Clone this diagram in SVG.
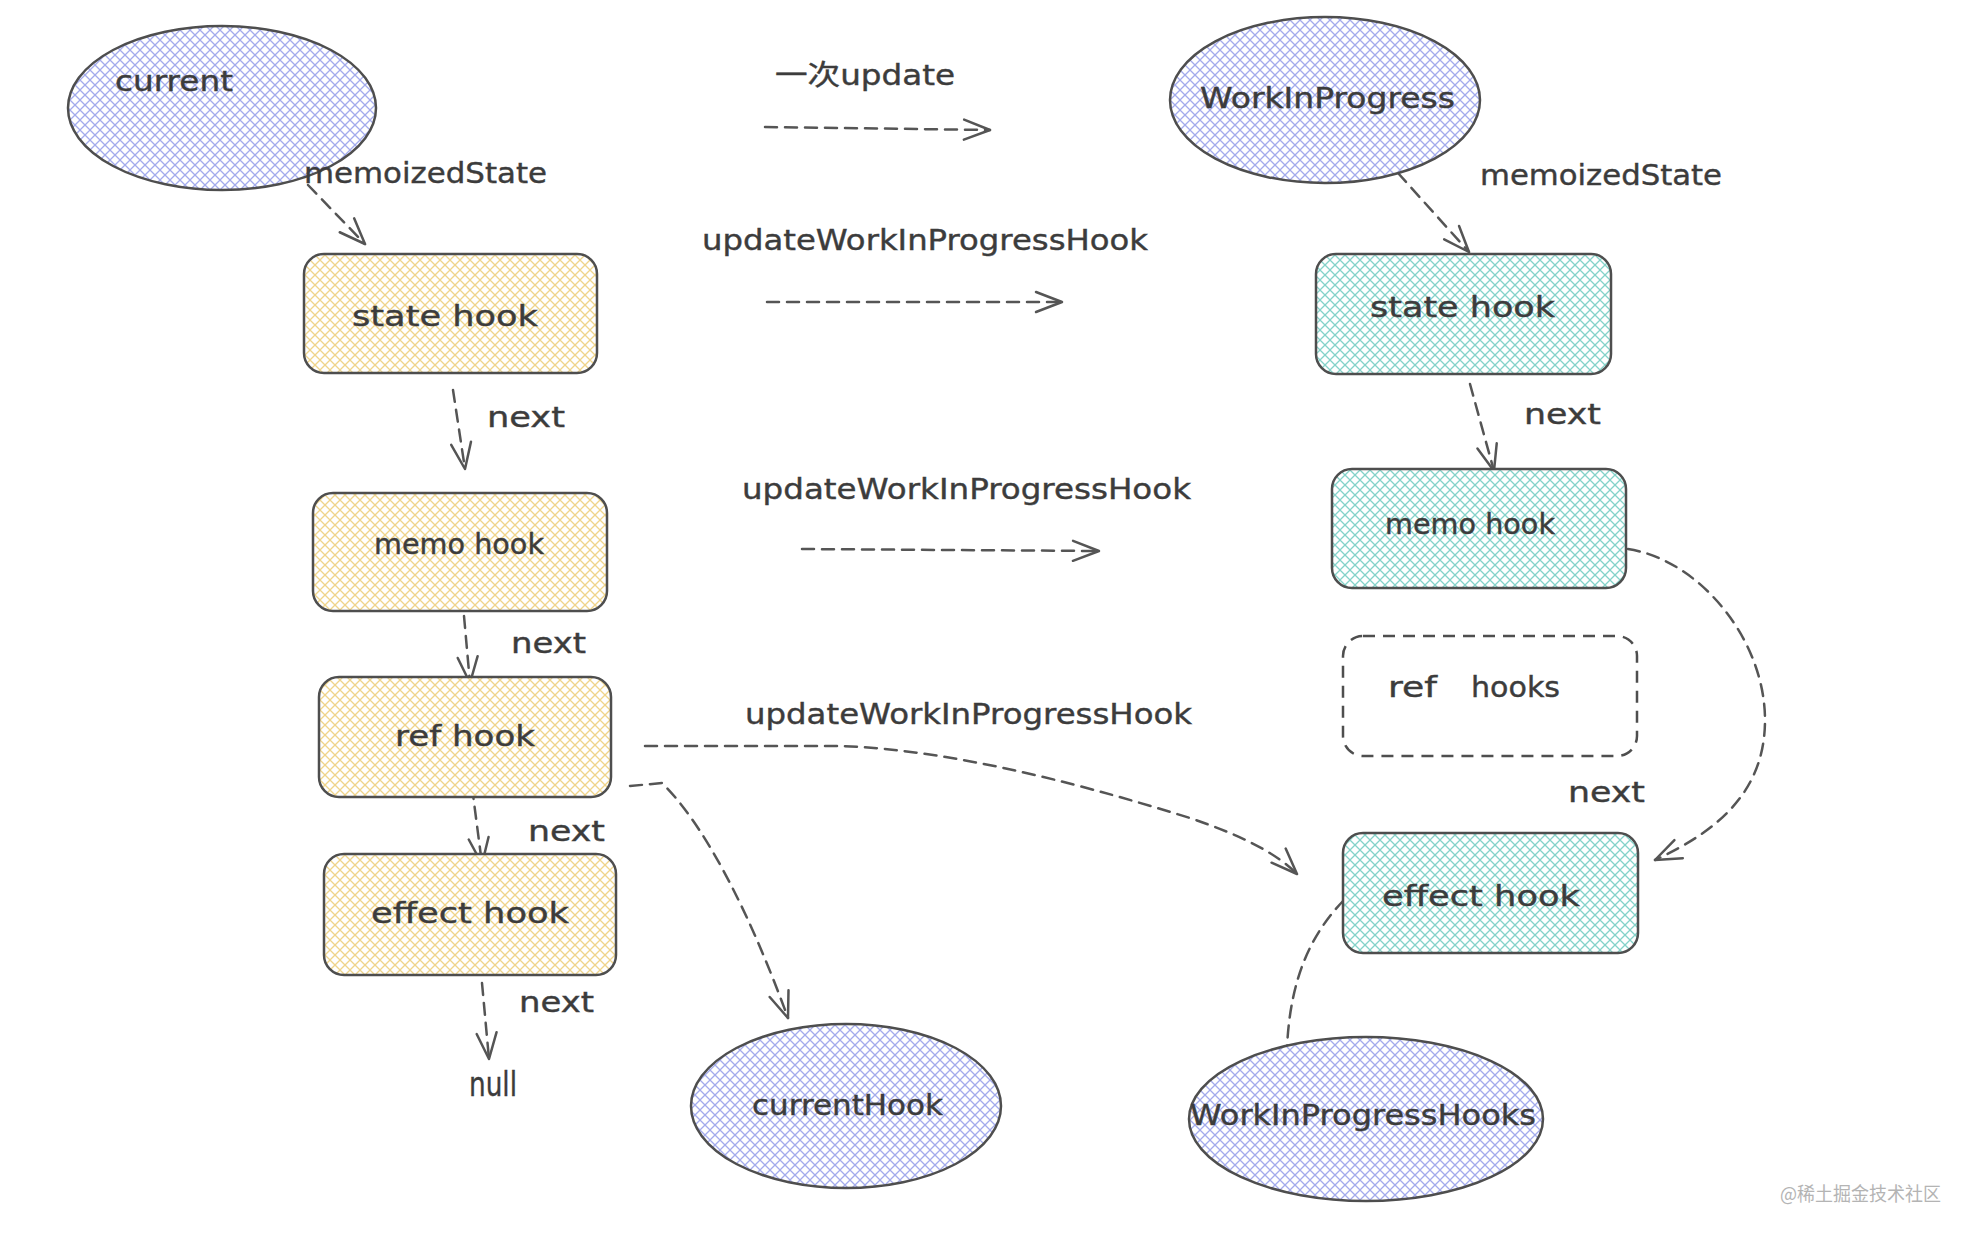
<svg xmlns="http://www.w3.org/2000/svg" width="1972" height="1236" viewBox="0 0 1972 1236">
<style>
  .lbl { font-family: "DejaVu Sans", "Noto Sans CJK SC", sans-serif; font-size: 28px; fill: #3c3c3c; stroke: #3c3c3c; stroke-width: 0.4; }
  .big { font-size: 34px; }
  .shape { stroke: #4e4e4e; stroke-width: 2.5; }
  .conn { fill: none; stroke: #555555; stroke-width: 2.5; stroke-dasharray: 12 8; stroke-linecap: round; }
  .wm { font-family: "Noto Sans CJK SC", "DejaVu Sans", sans-serif; font-size: 19px; fill: #b4b4b4; }
</style>
<defs>
  <pattern id="hBlue" patternUnits="userSpaceOnUse" width="10" height="10">
    <rect width="10" height="10" fill="#ffffff"/>
    <path d="M-1,-1 L11,11 M-1,11 L11,-1" stroke="#a3abec" stroke-width="1.3"/>
  </pattern>
  <pattern id="hYellow" patternUnits="userSpaceOnUse" width="10" height="10">
    <rect width="10" height="10" fill="#ffffff"/>
    <path d="M-1,-1 L11,11 M-1,11 L11,-1" stroke="#efd48a" stroke-width="1.3"/>
  </pattern>
  <pattern id="hTeal" patternUnits="userSpaceOnUse" width="10" height="10">
    <rect width="10" height="10" fill="#ffffff"/>
    <path d="M-1,-1 L11,11 M-1,11 L11,-1" stroke="#84d2c9" stroke-width="1.3"/>
  </pattern>
  <marker id="arr" viewBox="-30 -14 34 28" refX="0" refY="0" markerWidth="34" markerHeight="28" markerUnits="userSpaceOnUse" orient="auto">
    <path d="M-26,-10 L0,0 L-26,10" fill="none" stroke="#555555" stroke-width="2.5" stroke-linecap="round" stroke-linejoin="round"/>
  </marker>
</defs>
<rect width="1972" height="1236" fill="#ffffff"/>

<g id="connectors">
  <path class="conn" d="M308,185 L365,244" marker-end="url(#arr)"/>
  <path class="conn" d="M453,390 L465,469" marker-end="url(#arr)"/>
  <path class="conn" d="M464,616 L470,683" marker-end="url(#arr)"/>
  <path class="conn" d="M472,787 L482,864" marker-end="url(#arr)"/>
  <path class="conn" d="M482,983 L489,1059" marker-end="url(#arr)"/>
  <path class="conn" d="M1398,173 L1469,252" marker-end="url(#arr)"/>
  <path class="conn" d="M1470,384 L1494,471" marker-end="url(#arr)"/>
  <path class="conn" d="M765,127 L990,130" marker-end="url(#arr)"/>
  <path class="conn" d="M767,302 L1062,302" marker-end="url(#arr)"/>
  <path class="conn" d="M802,549 L1099,551" marker-end="url(#arr)"/>
  <path class="conn" d="M645,746 L840,746 C960,750 1100,790 1190,818 C1240,835 1275,852 1297,874" marker-end="url(#arr)"/>
  <path class="conn" d="M630,786 L662,783 C700,820 745,900 788,1018" marker-end="url(#arr)"/>
  <path class="conn" d="M1628,549 C1700,560 1765,640 1765,720 C1765,790 1720,830 1655,860" marker-end="url(#arr)"/>
  <path class="conn" d="M1344,900 C1310,935 1290,980 1287,1048"/>
</g>

<g id="node-current">
  <ellipse class="shape" cx="222" cy="108" rx="154" ry="82" fill="url(#hBlue)"/>
  <text class="lbl" x="115" y="91" textLength="118" lengthAdjust="spacingAndGlyphs">current</text>
</g>
<g id="node-wip">
  <ellipse class="shape" cx="1325" cy="100" rx="155" ry="83" fill="url(#hBlue)"/>
  <text class="lbl" x="1200" y="108" textLength="255" lengthAdjust="spacingAndGlyphs">WorkInProgress</text>
</g>
<g id="node-currentHook">
  <ellipse class="shape" cx="846" cy="1106" rx="155" ry="82" fill="url(#hBlue)"/>
  <text class="lbl" x="752" y="1115" textLength="191" lengthAdjust="spacingAndGlyphs">currentHook</text>
</g>
<g id="node-wipHooks">
  <ellipse class="shape" cx="1366" cy="1119" rx="177" ry="82" fill="url(#hBlue)"/>
  <text class="lbl" x="1190" y="1125" textLength="346" lengthAdjust="spacingAndGlyphs">WorkInProgressHooks</text>
</g>

<g id="node-state-left">
  <rect class="shape" x="304" y="254" width="293" height="119" rx="20" fill="url(#hYellow)"/>
  <text class="lbl" x="352" y="326" textLength="186" lengthAdjust="spacingAndGlyphs">state hook</text>
</g>
<g id="node-memo-left">
  <rect class="shape" x="313" y="493" width="294" height="118" rx="20" fill="url(#hYellow)"/>
  <text class="lbl" x="374" y="554" textLength="170" lengthAdjust="spacingAndGlyphs">memo hook</text>
</g>
<g id="node-ref-left">
  <rect class="shape" x="319" y="677" width="292" height="120" rx="20" fill="url(#hYellow)"/>
  <text class="lbl" x="395" y="746" textLength="140" lengthAdjust="spacingAndGlyphs">ref hook</text>
</g>
<g id="node-effect-left">
  <rect class="shape" x="324" y="854" width="292" height="121" rx="20" fill="url(#hYellow)"/>
  <text class="lbl" x="371" y="923" textLength="198" lengthAdjust="spacingAndGlyphs">effect hook</text>
</g>

<g id="node-state-right">
  <rect class="shape" x="1316" y="254" width="295" height="120" rx="20" fill="url(#hTeal)"/>
  <text class="lbl" x="1370" y="317" textLength="185" lengthAdjust="spacingAndGlyphs">state hook</text>
</g>
<g id="node-memo-right">
  <rect class="shape" x="1332" y="469" width="294" height="119" rx="20" fill="url(#hTeal)"/>
  <text class="lbl" x="1385" y="534" textLength="170" lengthAdjust="spacingAndGlyphs">memo hook</text>
</g>
<g id="node-ref-hooks">
  <rect class="shape" x="1343" y="636" width="294" height="120" rx="20" fill="none" stroke-dasharray="12 8"/>
  <text class="lbl" y="697"><tspan x="1388" textLength="49" lengthAdjust="spacingAndGlyphs">ref</tspan><tspan x="1471" textLength="89" lengthAdjust="spacingAndGlyphs">hooks</tspan></text>
</g>
<g id="node-effect-right">
  <rect class="shape" x="1343" y="833" width="295" height="120" rx="20" fill="url(#hTeal)"/>
  <text class="lbl" x="1382" y="906" textLength="198" lengthAdjust="spacingAndGlyphs">effect hook</text>
</g>

<g id="labels">
  <text class="lbl" x="304" y="183" textLength="243" lengthAdjust="spacingAndGlyphs">memoizedState</text>
  <text class="lbl" x="1480" y="185" textLength="242" lengthAdjust="spacingAndGlyphs">memoizedState</text>
  <text class="lbl" x="775" y="85" textLength="180" lengthAdjust="spacingAndGlyphs">一次update</text>
  <text class="lbl" x="702" y="250" textLength="446" lengthAdjust="spacingAndGlyphs">updateWorkInProgressHook</text>
  <text class="lbl" x="742" y="499" textLength="449" lengthAdjust="spacingAndGlyphs">updateWorkInProgressHook</text>
  <text class="lbl" x="745" y="724" textLength="447" lengthAdjust="spacingAndGlyphs">updateWorkInProgressHook</text>
  <text class="lbl" x="487" y="427" textLength="78" lengthAdjust="spacingAndGlyphs">next</text>
  <text class="lbl" x="511" y="653" textLength="75" lengthAdjust="spacingAndGlyphs">next</text>
  <text class="lbl" x="528" y="841" textLength="77" lengthAdjust="spacingAndGlyphs">next</text>
  <text class="lbl" x="519" y="1012" textLength="75" lengthAdjust="spacingAndGlyphs">next</text>
  <text class="lbl big" x="469" y="1096" textLength="48" lengthAdjust="spacingAndGlyphs">null</text>
  <text class="lbl" x="1524" y="424" textLength="77" lengthAdjust="spacingAndGlyphs">next</text>
  <text class="lbl" x="1568" y="802" textLength="77" lengthAdjust="spacingAndGlyphs">next</text>
  <text class="wm" x="1780" y="1201" textLength="161" lengthAdjust="spacingAndGlyphs">@稀土掘金技术社区</text>
</g>
</svg>
